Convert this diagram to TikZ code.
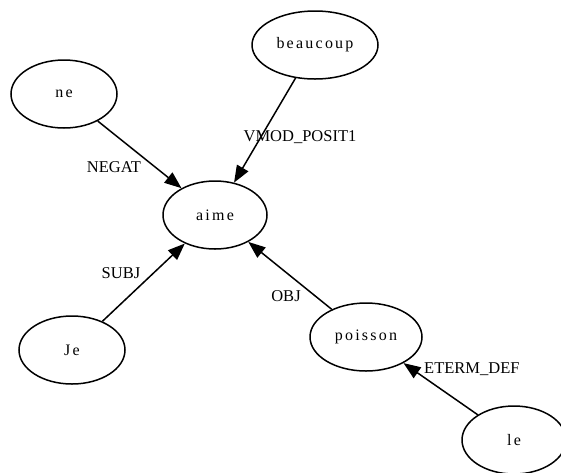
\documentclass[tikz,border=0pt]{standalone}
\usepackage{fontspec}
\setmainfont{Liberation Serif}
\newfontfamily\nodefont[LetterSpace=14]{Liberation Serif}
\usetikzlibrary{shapes.geometric,arrows.meta}
\tikzset{
  word/.style={draw, ellipse, line width=1.5pt, minimum width=106pt, minimum height=68pt, inner sep=0pt, font=\nodefont\fontsize{16}{18}\selectfont},
  rel/.style={font=\fontsize{16.5}{18}\selectfont, inner sep=0pt},
  dep/.style={line width=1.5pt, -{Triangle[length=17pt,width=13pt]}}
}
\begin{document}
\begin{tikzpicture}[x=1pt,y=-1pt]
\useasboundingbox (0,0) rectangle (561,472);
\node[word, minimum width=126pt] (beaucoup) at (315,45) {beaucoup};
\node[word] (ne) at (64,94) {ne};
\node[word, minimum width=104pt] (aime) at (215,215) {aime};
\node[word] (Je) at (72,350) {Je};
\node[word, minimum width=112pt] (poisson) at (366,337) {poisson};
\node[word, minimum width=104pt] (le) at (514,440) {le};
\node[rel] (lnegat) at (114,167) {NEGAT};
\node[rel] (lvmod) at (300,137) {VMOD\_POSIT1};
\node[rel] (lsubj) at (121,273) {SUBJ};
\node[rel] (lobj) at (286,296) {OBJ};
\node[rel, anchor=west] (ldeterm) at (424,369) {ETERM\_DEF};
\draw[dep] (ne) -- (aime);
\draw[dep] (beaucoup) -- (aime);
\draw[dep] (Je) -- (aime);
\draw[dep] (poisson) -- (aime);
\draw[dep] (le) -- (poisson);
\end{tikzpicture}
\end{document}
